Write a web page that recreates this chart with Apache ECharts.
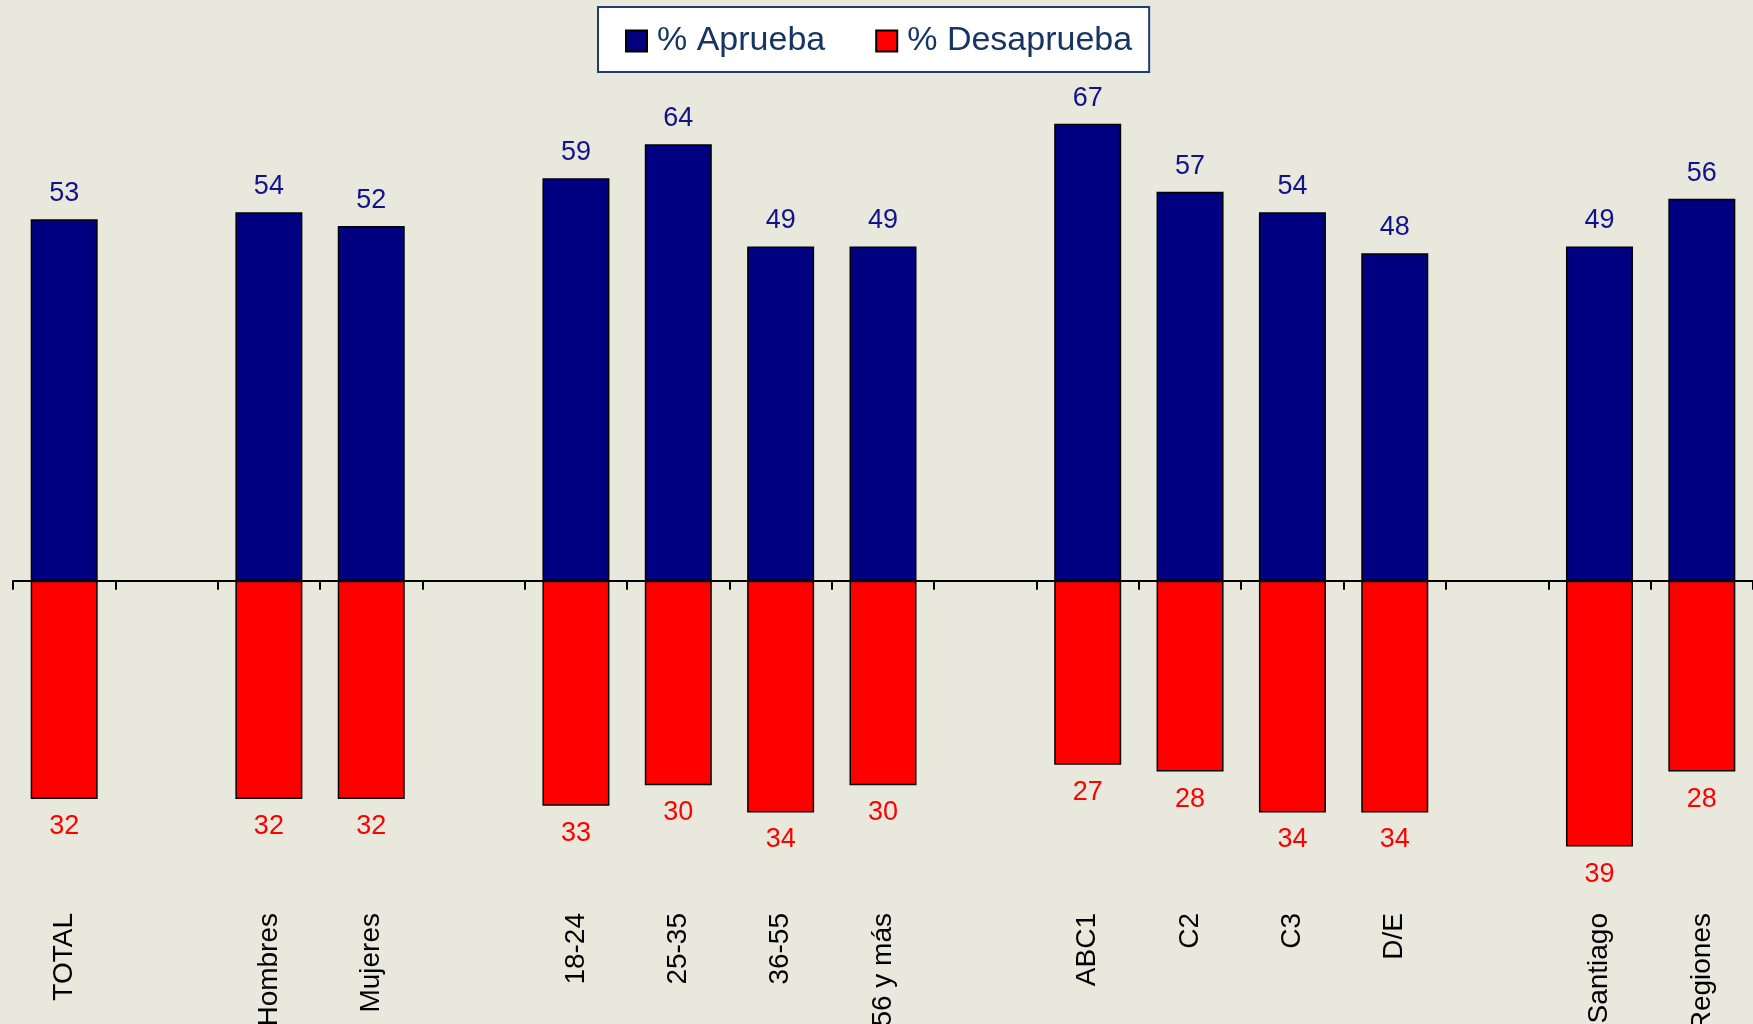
<!DOCTYPE html>
<html>
<head>
<meta charset="utf-8">
<script src="https://cdn.jsdelivr.net/npm/echarts@6/dist/echarts.min.js"></script>
<style>
  html, body { margin: 0; padding: 0; background: #e9e8dd; }
  #container { width: 1753px; height: 1024px; }
</style>
</head>
<body>
<div id="container"></div>
<script>
// categories ('' = empty gap between groups)
var categories = ['TOTAL', '', 'Hombres', 'Mujeres', '', '18-24', '25-35', '36-55', '56 y más', '',
                  'ABC1', 'C2', 'C3', 'D/E', '', 'Santiago', 'Regiones'];
var aprueba    = [53, '-', 54, 52, '-', 59, 64, 49, 49, '-', 67, 57, 54, 48, '-', 49, 56];
var desaprueba = [32, '-', 32, 32, '-', 33, 30, 34, 30, '-', 27, 28, 34, 34, '-', 39, 28];

var dom = document.getElementById("container");
var myChart = echarts.init(dom);
var font = 'Liberation Sans';

var option = {
    backgroundColor: '#e9e8dd',
    animation: false,
    textStyle: { fontFamily: font },
    legend: {
        top: 7,
        left: 598,
        backgroundColor: '#ffffff',
        borderColor: '#1f3f74',
        borderWidth: 2,
        padding: [17, 17, 14, 27],
        icon: 'rect',
        itemWidth: 21,
        itemHeight: 21,
        itemGap: 50,
        textStyle: { fontSize: 34, color: '#173563', fontFamily: font, padding: [0, 0, 0, 5] },
        data: ['% Aprueba', '% Desaprueba']
    },
    grid: { left: 13, right: 0, top: 35, bottom: 116, outerBoundsMode: 'none' },
    xAxis: [
        {
            type: 'category',
            data: categories,
            position: 'bottom',
            axisLine: { show: true, onZero: true, lineStyle: { color: '#000', width: 2 } },
            axisTick: { show: true, length: 9, lineStyle: { color: '#000', width: 2 } },
            axisLabel: { show: false }
        },
        {
            type: 'category',
            data: categories,
            position: 'bottom',
            axisLine: { show: false },
            axisTick: { show: false },
            axisLabel: {
                show: true,
                rotate: 90,
                margin: 5,
                interval: 0,
                fontSize: 28,
                color: '#000',
                fontFamily: font
            }
        }
    ],
    yAxis: {
        type: 'value',
        min: -48,
        max: 80,
        show: false,
        splitLine: { show: false }
    },
    series: [
        {
            name: '% Aprueba',
            type: 'bar',
            data: aprueba,
            barWidth: 67,
            barGap: '-100%',
            itemStyle: { color: '#000080', borderColor: '#000', borderWidth: 1.5 },
            label: {
                show: true,
                position: 'top',
                distance: 12,
                fontSize: 27,
                color: '#12128a',
                fontFamily: font
            }
        },
        {
            name: '% Desaprueba',
            type: 'bar',
            data: desaprueba.map(function (v) { return v === '-' ? '-' : -v; }),
            barWidth: 67,
            itemStyle: { color: '#ff0000', borderColor: '#000', borderWidth: 1.5 },
            label: {
                show: true,
                position: 'bottom',
                distance: 14,
                fontSize: 27,
                color: '#ff0000',
                fontFamily: font,
                formatter: function (p) { return Math.abs(p.value); }
            }
        }
    ]
};

myChart.setOption(option);
</script>
</body>
</html>
